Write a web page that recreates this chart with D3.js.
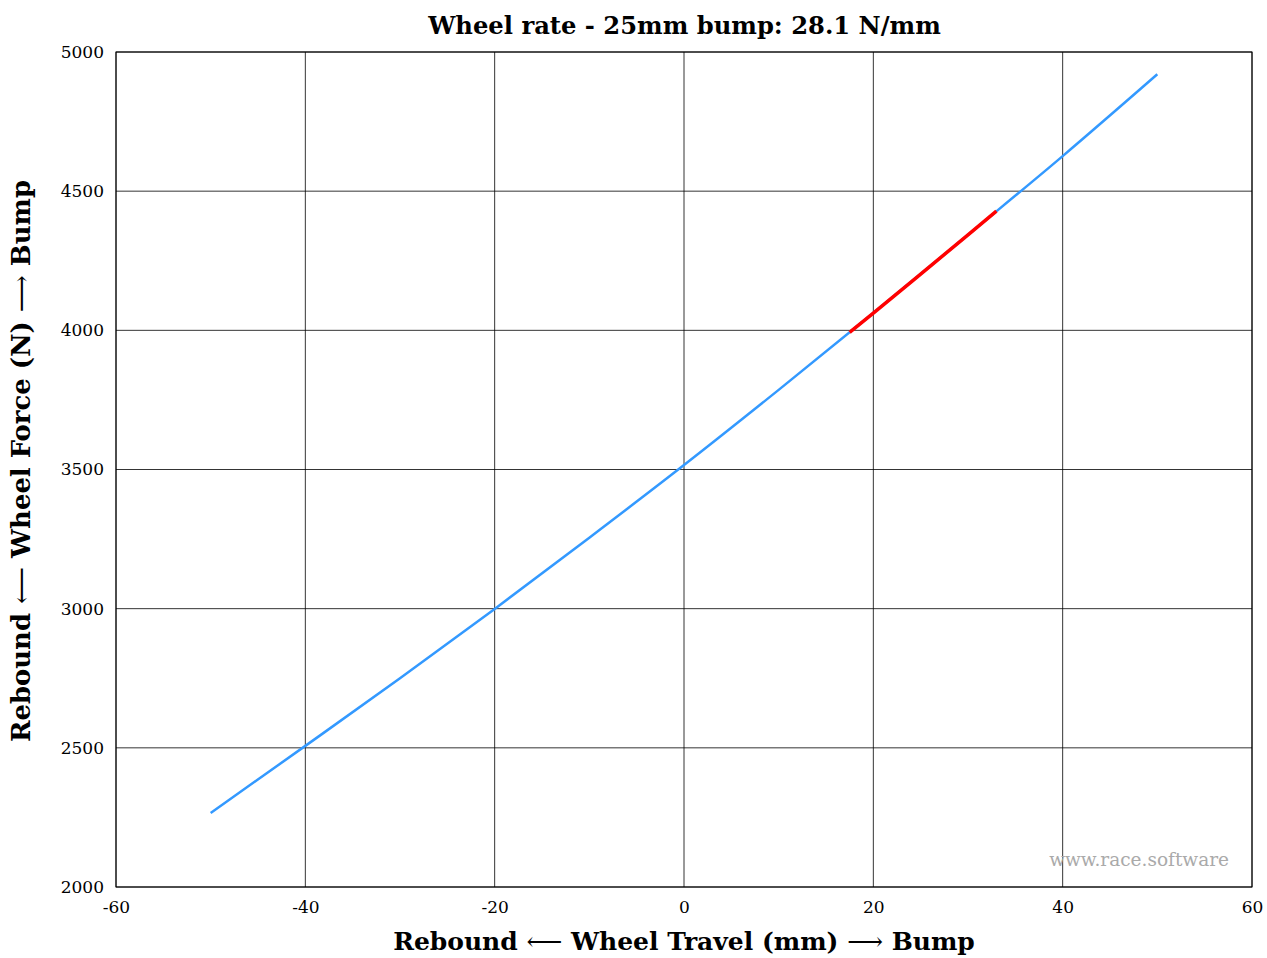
<!DOCTYPE html>
<html><head><meta charset="utf-8">
<script src="https://cdn.jsdelivr.net/npm/d3@7"></script>
<style>
body{margin:0;background:#fff;}
text{font-family:"DejaVu Serif",serif;}
</style></head>
<body><svg id="c" width="1267" height="958"></svg>
<script>
const travel = [-50,-40,-30,-20,-10,0,10,20,30,40,50];
const force  = [2266,2507,2750,2999,3255,3516,3786,4062,4343,4626,4920];
const bumpTravel = [17.5,20,25,30,33];
const bumpForce  = [3993,4062,4202,4343,4428];
const xTicks = [-60,-40,-20,0,20,40,60];
const yTicks = [2000,2500,3000,3500,4000,4500,5000];
const titleText = "Wheel rate - 25mm bump: 28.1 N/mm";

const svg = d3.select("#c");
const L=116,R=1252,T=52,B=887;
const x = d3.scaleLinear().domain([-60,60]).range([L,R]);
const y = d3.scaleLinear().domain([2000,5000]).range([B,T]);

function fit(sel, w){
  const n = sel.node(); const fs = +sel.attr("font-size");
  const cur = n.getComputedTextLength();
  sel.attr("font-size", fs*w/cur);
}

svg.append("g").selectAll("line").data(xTicks).join("line")
  .attr("x1",d=>x(d)).attr("x2",d=>x(d)).attr("y1",T).attr("y2",B)
  .attr("stroke","#000").attr("stroke-width",0.8);
svg.append("g").selectAll("line").data(yTicks).join("line")
  .attr("y1",d=>y(d)).attr("y2",d=>y(d)).attr("x1",L).attr("x2",R)
  .attr("stroke","#000").attr("stroke-width",0.8);

const fmt = d=>String(d);
const xa = svg.append("g").attr("transform",`translate(0,${B})`)
  .call(d3.axisBottom(x).tickValues(xTicks).tickFormat(fmt).tickSize(0).tickPadding(14));
const ya = svg.append("g").attr("transform",`translate(${L},0)`)
  .call(d3.axisLeft(y).tickValues(yTicks).tickFormat(fmt).tickSize(0).tickPadding(12));
[xa,ya].forEach(a=>{a.select(".domain").remove();
  a.selectAll("text").attr("font-family","'DejaVu Serif',serif").attr("font-size",17).attr("fill","#000");});

svg.append("rect").attr("x",L).attr("y",T).attr("width",R-L).attr("height",B-T)
  .attr("fill","none").attr("stroke","#000").attr("stroke-width",1);

const line = d3.line().x(d=>x(d[0])).y(d=>y(d[1])).curve(d3.curveMonotoneX);
svg.append("path").datum(travel.map((t,i)=>[t,force[i]])).attr("d",line)
  .attr("fill","none").attr("stroke","#3399ff").attr("stroke-width",2.5);
svg.append("path").datum(bumpTravel.map((t,i)=>[t,bumpForce[i]])).attr("d",line)
  .attr("fill","none").attr("stroke","#ff0000").attr("stroke-width",3.5);

const wm = svg.append("text").attr("x",1229).attr("y",866).attr("text-anchor","end")
  .attr("font-size",17).attr("fill","#aaaaaa").text("www.race.software");
fit(wm,180);

const tt = svg.append("text").attr("x",684.5).attr("y",34).attr("text-anchor","middle")
  .attr("font-size",21).attr("font-weight","bold").text(titleText);
fit(tt,513);

function axisLabel(sel, mid){
  sel.append("tspan").text("Rebound ");
  sel.append("tspan").attr("font-weight","normal").text("⟵");
  sel.append("tspan").text(" " + mid + " ");
  sel.append("tspan").attr("font-weight","normal").text("⟶");
  sel.append("tspan").text(" Bump");
}
const xl = svg.append("text").attr("x",684).attr("y",950).attr("text-anchor","middle")
  .attr("font-size",21).attr("font-weight","bold");
axisLabel(xl,"Wheel Travel (mm)");
fit(xl,582);

const yl = svg.append("text").attr("transform","translate(30,461) rotate(-90)").attr("text-anchor","middle")
  .attr("font-size",21).attr("font-weight","bold");
axisLabel(yl,"Wheel Force (N)");
fit(yl,562);
</script></body></html>
